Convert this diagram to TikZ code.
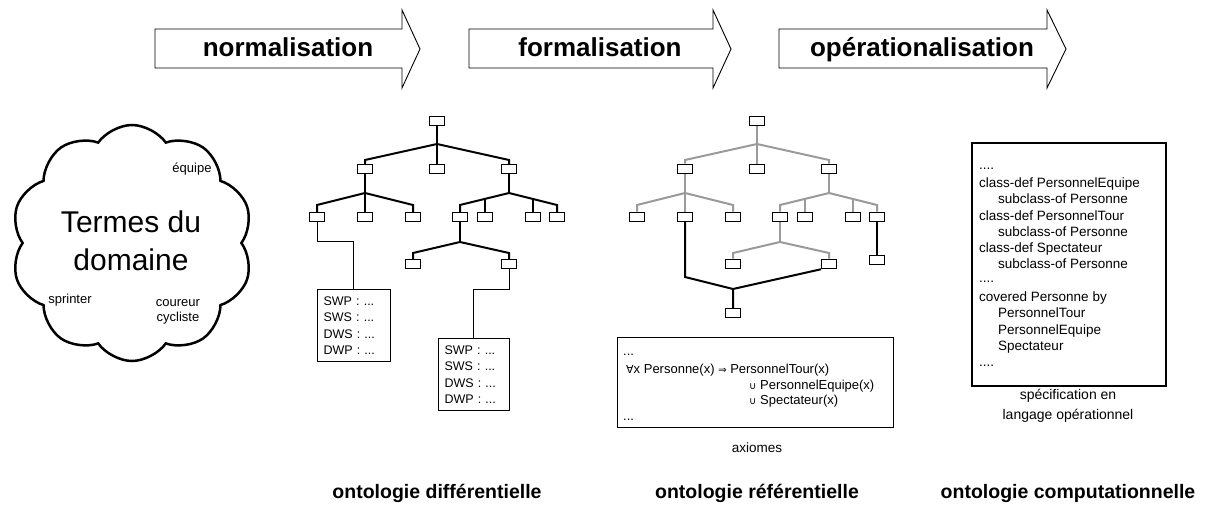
\documentclass[tikz,border=0pt]{standalone}
\usepackage{fontspec}
\setmainfont{Liberation Sans}
\newfontfamily\symf{DejaVu Sans}
\usetikzlibrary{shapes.symbols}
\definecolor{treegrey}{HTML}{9A9A9A}
\newcommand\ontotree[3]{%
 \begin{scope}[xshift=#2]
  \node[tbox] (#1r) at (437,121) {};
  \node[tbox] (#1a) at (365,169) {};
  \node[tbox] (#1b) at (437,169) {};
  \node[tbox] (#1c) at (509,169) {};
  \node[tbox] (#1d) at (317,217) {};
  \node[tbox] (#1e) at (365,217) {};
  \node[tbox] (#1f) at (413,217) {};
  \node[tbox] (#1g) at (460,217) {};
  \node[tbox] (#1h) at (485,217) {};
  \node[tbox] (#1i) at (533,217) {};
  \node[tbox] (#1k) at (557,217) {};
  \node[tbox] (#1m) at (413,264) {};
  \node[tbox] (#1n) at (509,264) {};
  \coordinate (#1j0) at (437,144);
  \coordinate (#1a1) at (365,160);
  \coordinate (#1c1) at (509,160);
  \coordinate (#1j1) at (365,193);
  \coordinate (#1d1) at (317,205);
  \coordinate (#1f1) at (413,205);
  \coordinate (#1j2) at (509,193);
  \coordinate (#1g1) at (460,205);
  \coordinate (#1h1) at (485,198.9);
  \coordinate (#1i1) at (533,199);
  \coordinate (#1k1) at (557,205);
  \coordinate (#1j3) at (460,242);
  \coordinate (#1m1) at (413,253);
  \coordinate (#1n1) at (509,253);
  \draw[#3] (#1r.south) -- (#1b.north);
  \draw[#3] (#1j0) -- (#1a1) -- (#1a.north);
  \draw[#3] (#1j0) -- (#1c1) -- (#1c.north);
  \draw[#3] (#1a.south) -- (#1e.north);
  \draw[#3] (#1j1) -- (#1d1) -- (#1d.north);
  \draw[#3] (#1j1) -- (#1f1) -- (#1f.north);
  \draw[#3] (#1c.south) -- (#1j2);
  \draw[#3] (#1j2) -- (#1g1) -- (#1g.north);
  \draw[#3] (#1j2) -- (#1k1) -- (#1k.north);
  \draw[#3] (#1h1) -- (#1h.north);
  \draw[#3] (#1i1) -- (#1i.north);
  \draw[#3] (#1g.south) -- (#1j3);
  \draw[#3] (#1j3) -- (#1m1) -- (#1m.north);
  \draw[#3] (#1j3) -- (#1n1) -- (#1n.north);
 \end{scope}}
\begin{document}
\begin{tikzpicture}[x=1pt,y=-1pt,
  tbox/.style={draw, fill=white, line width=1pt, minimum width=15pt, minimum height=9.5pt, inner sep=0pt},
  tedge/.style={line width=2pt, line cap=rect},
  gedge/.style={line width=2pt, draw=treegrey},
  thinlink/.style={line width=1pt},
  arrowshape/.style={draw, line width=0.9pt, fill=white},
  arrowtxt/.style={anchor=base, inner sep=0pt, font=\bfseries\fontsize{26}{30}\selectfont},
  bottomlbl/.style={anchor=base, inner sep=0pt, font=\bfseries\fontsize{19.5}{23}\selectfont},
  small/.style={font=\fontsize{13}{15}\selectfont},
  codeline/.style={anchor=base west, inner sep=0pt, font=\fontsize{13.5}{16}\selectfont},
  axline/.style={anchor=base west, inner sep=0pt, font=\fontsize{13}{15}\selectfont},
  swpbox/.style={draw, line width=1pt, anchor=north west, align=left, text width=61pt, inner xsep=6pt, minimum height=72pt, font=\fontsize{12.5}{16.3}\selectfont}
]
\useasboundingbox[fill=white] (0,0) rectangle (1205,505);

% process arrows
\draw[arrowshape] (155,29) -- (402,29) -- (402,10) -- (420,49) -- (402,88) -- (402,68) -- (155,68) -- cycle;
\node[arrowtxt] (arr1) at (288,57) {normalisation};
\draw[arrowshape] (469,29) -- (713,29) -- (713,10) -- (731,49) -- (713,88) -- (713,68) -- (469,68) -- cycle;
\node[arrowtxt] (arr2) at (600,57) {formalisation};
\draw[arrowshape] (779,29) -- (1047,29) -- (1047,10) -- (1066,49) -- (1047,88) -- (1047,68) -- (779,68) -- cycle;
\node[arrowtxt] (arr3) at (922,57) {opérationalisation};

% cloud
\node[cloud, draw, line width=2.5pt, cloud puffs=10, cloud puff arc=110, aspect=1,
      minimum width=242pt, minimum height=236pt] (cloud) at (132,243) {};
\node[font=\fontsize{30}{38}\selectfont, align=center] (termes) at (131,241) {Termes du\\domaine};
\node[small] (equipe) at (192,169) {équipe};
\node[small] (sprinter) at (70,300) {sprinter};
\node[small, align=center] (coureur) at (178,312) {coureur\\cycliste};

% tree 1 : ontologie differentielle
\ontotree{ta}{0pt}{tedge}
\node[swpbox] (swp1) at (317,289) {SWP : ...\\SWS : ...\\DWS : ...\\DWP : ...};
\node[swpbox, text width=59pt] (swp2) at (438,338) {SWP : ...\\SWS : ...\\DWS : ...\\DWP : ...};
\coordinate (l1a) at (317,242);
\coordinate (l1b) at (353,242);
\draw[thinlink] (tad.south) -- (l1a) -- (l1b) -- (swp1.north -| l1b);
\coordinate (l2a) at (509,289);
\coordinate (l2b) at (473,289);
\draw[thinlink] (tan.south) -- (l2a) -- (l2b) -- (swp2.north -| l2b);

% tree 2 : ontologie referentielle
\ontotree{tb}{320pt}{gedge}
\node[tbox] (tbq) at (733,313) {};
\node[tbox] (tbp) at (877,260) {};
\coordinate (tbx1) at (685,277);
\coordinate (tbx2) at (733,289);
\draw[tedge, line cap=butt] (tbe.south) -- (tbx1) -- (tbx2) -- (tbq.north);
\draw[tedge, line cap=butt] (tbx2) -- (tbn.south west);
\draw[tedge, line cap=butt] (tbk.south) -- (tbp.north);

% axiomes
\node[draw, line width=1pt, minimum width=276pt, minimum height=90pt, inner sep=0pt] (axbox) at (755,382) {};
\node[axline] (ax0) at (623,355) {...};
\node[axline] (ax1) at (626,373) {{\symf\fontsize{11}{13}\selectfont∀}x Personne(x) {\symf\fontsize{10}{12}\selectfont⇒} PersonnelTour(x)};
\node[axline] (ax2) at (749,389) {{\symf\fontsize{10}{12}\selectfont∪} PersonnelEquipe(x)};
\node[axline] (ax3) at (749,404) {{\symf\fontsize{10}{12}\selectfont∪} Spectateur(x)};
\node[axline] (ax4) at (623,420) {...};
\node[font=\fontsize{13.5}{16}\selectfont] (axiomes) at (757,448) {axiomes};

% operational specification
\node[draw, line width=2pt, minimum width=194pt, minimum height=243pt, inner sep=0pt] (opbox) at (1069,264.5) {};
\node[codeline] (c1) at (979,170) {....};
\node[codeline] (c2) at (979,187.5) {class-def PersonnelEquipe};
\node[codeline] (c3) at (998,203.8) {subclass-of Personne};
\node[codeline] (c4) at (979,220.1) {class-def PersonnelTour};
\node[codeline] (c5) at (998,236.4) {subclass-of Personne};
\node[codeline] (c6) at (979,252.7) {class-def Spectateur};
\node[codeline] (c7) at (998,269) {subclass-of Personne};
\node[codeline] (c8) at (979,283) {....};
\node[codeline] (c9) at (979,301.6) {covered Personne by};
\node[codeline] (c10) at (998,317.9) {PersonnelTour};
\node[codeline] (c11) at (998,334.2) {PersonnelEquipe};
\node[codeline] (c12) at (998,350.5) {Spectateur};
\node[codeline] (c13) at (979,366) {....};
\node[font=\fontsize{14}{20}\selectfont, align=center] (spec) at (1068,406) {spécification en\\langage opérationnel};

% bottom labels
\node[bottomlbl] (lbl1) at (437,498) {ontologie différentielle};
\node[bottomlbl] (lbl2) at (757,498) {ontologie référentielle};
\node[bottomlbl] (lbl3) at (1068,498) {ontologie computationnelle};
\end{tikzpicture}
\end{document}
